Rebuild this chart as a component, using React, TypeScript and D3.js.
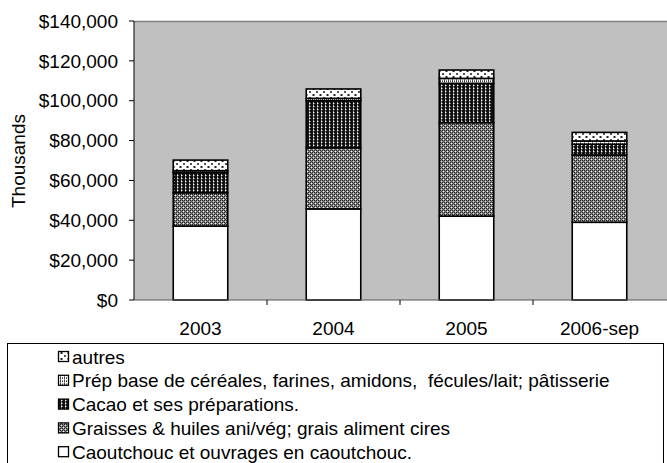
import React, { useEffect, useRef } from 'react';
import * as d3 from 'd3';

const CATEGORIES = ['2003', '2004', '2005', '2006-sep'];
const CAOUTCHOUC = [37.1, 45.7, 42.1, 39.0];
const GRAISSES = [16.7, 30.7, 46.9, 33.8];
const CACAO = [10.1, 23.6, 19.7, 5.4];
const PREP = [1.0, 1.2, 2.5, 1.6];
const AUTRES = [5.3, 4.7, 4.2, 4.3];
const Y_TICKS = [0, 20, 40, 60, 80, 100, 120, 140];

const SERIES = [
    { key: 'caout', label: 'Caoutchouc et ouvrages en caoutchouc.', values: CAOUTCHOUC, fill: '#ffffff' },
    { key: 'grais', label: 'Graisses & huiles ani/vég; grais aliment cires', values: GRAISSES, fill: 'url(#pGrais)' },
    { key: 'cacao', label: 'Cacao et ses préparations.', values: CACAO, fill: 'url(#pCacao)' },
    { key: 'prep', label: 'Prép base de céréales, farines, amidons,  fécules/lait; pâtisserie', values: PREP, fill: 'url(#pPrep)' },
    { key: 'autres', label: 'autres', values: AUTRES, fill: 'url(#pAutres)' },
];

const W = 667;
const H = 463;
const FONT = '"Liberation Sans", Arial, sans-serif';
const FS = 19;

const App = () => {
    const svgRef = useRef<SVGSVGElement>(null);

    useEffect(() => {
        const svg = d3.select(svgRef.current);
        svg.selectAll('*').remove();

        const left = 134, right = 666, top = 21, bottom = 300;

        // patterns
        const defs = svg.append('defs');
        const pat = (id: string, w: number, h: number, bg: string, px: [number, number, string][]) => {
            const p = defs.append('pattern').attr('id', id).attr('patternUnits', 'userSpaceOnUse')
                .attr('width', w).attr('height', h);
            p.append('rect').attr('width', w).attr('height', h).attr('fill', bg);
            px.forEach(([x, y, c]) => p.append('rect').attr('x', x).attr('y', y).attr('width', 1).attr('height', 1).attr('fill', c));
        };
        pat('pGrais', 4, 4, '#8a8a8a', [[0, 0, '#222'], [2, 0, '#222'], [1, 1, '#ddd'], [3, 1, '#555'], [0, 2, '#222'], [2, 2, '#222'], [1, 3, '#555'], [3, 3, '#fff']]);
        pat('pCacao', 4, 3, '#111', [[1, 0, '#999'], [1, 1, '#fff'], [2, 1, '#777'], [1, 2, '#666']]);
        pat('pPrep', 4, 3, '#ffffff', [[0, 0, '#444'], [2, 0, '#444'], [0, 1, '#888'], [0, 2, '#444'], [2, 2, '#888']]);
        const pa = defs.append('pattern').attr('id', 'pAutres').attr('patternUnits', 'userSpaceOnUse')
            .attr('width', 7).attr('height', 6);
        pa.append('rect').attr('width', 7).attr('height', 6).attr('fill', '#fff');
        pa.append('rect').attr('x', 1).attr('y', 1).attr('width', 2).attr('height', 2).attr('fill', '#555');
        pa.append('rect').attr('x', 4.5).attr('y', 4).attr('width', 2).attr('height', 2).attr('fill', '#222');

        const x = d3.scaleBand<string>().domain(CATEGORIES).range([left, right])
            .paddingInner(0.59).paddingOuter(0.295);
        const y = d3.scaleLinear().domain([0, 140]).range([bottom, top]);

        // plot area
        svg.append('rect').attr('x', left).attr('y', top).attr('width', W - left).attr('height', bottom - top)
            .attr('fill', '#c0c0c0');
        svg.append('line').attr('x1', left).attr('x2', W).attr('y1', top + 0.5).attr('y2', top + 0.5)
            .attr('stroke', '#808080').attr('stroke-width', 1.5);

        // stacked bars
        const table = CATEGORIES.map((c, i) => {
            const row: any = { cat: c };
            SERIES.forEach(s => { row[s.key] = s.values[i]; });
            return row;
        });
        const stacked = d3.stack().keys(SERIES.map(s => s.key))(table);
        stacked.forEach((layer, li) => {
            svg.append('g').selectAll('rect').data(layer).join('rect')
                .attr('x', (d: any) => x(d.data.cat)!)
                .attr('width', x.bandwidth())
                .attr('y', d => y(d[1]))
                .attr('height', d => y(d[0]) - y(d[1]))
                .attr('fill', SERIES[li].fill)
                .attr('stroke', '#000')
                .attr('stroke-width', 1.6);
        });

        // y axis
        svg.append('line').attr('x1', left).attr('x2', left).attr('y1', top).attr('y2', bottom)
            .attr('stroke', '#000');
        const yg = svg.append('g');
        Y_TICKS.forEach(t => {
            yg.append('line').attr('x1', left - 5).attr('x2', left).attr('y1', y(t)).attr('y2', y(t)).attr('stroke', '#000');
            yg.append('text').attr('x', left - 16).attr('y', y(t)).attr('dy', '0.35em')
                .attr('text-anchor', 'end').attr('font-family', FONT).attr('font-size', FS)
                .text('$' + d3.format(',')(t * 1000));
        });
        svg.append('text').attr('transform', 'translate(25,161) rotate(-90)')
            .attr('text-anchor', 'middle').attr('font-family', FONT).attr('font-size', FS).text('Thousands');

        // x axis
        svg.append('line').attr('x1', left).attr('x2', W).attr('y1', bottom).attr('y2', bottom)
            .attr('stroke', '#555');
        CATEGORIES.forEach((c, i) => {
            const bx = x(c)! - x.step() * x.paddingOuter();
            if (i > 0) {
                svg.append('line').attr('x1', bx).attr('x2', bx).attr('y1', bottom).attr('y2', bottom + 5).attr('stroke', '#000');
            }
            svg.append('text').attr('x', x(c)! + x.bandwidth() / 2).attr('y', 335)
                .attr('text-anchor', 'middle').attr('font-family', FONT).attr('font-size', FS).text(c);
        });

        // legend
        const lg = svg.append('g');
        lg.append('rect').attr('x', 7.5).attr('y', 343.5).attr('width', 656).attr('height', 130)
            .attr('fill', '#fff').attr('stroke', '#000');
        SERIES.slice().reverse().forEach((s, i) => {
            const cy = 357 + i * 23.8;
            lg.append('rect').attr('x', 58.5).attr('y', cy - 5.5).attr('width', 10).attr('height', 10)
                .attr('fill', s.fill).attr('stroke', '#000').attr('stroke-width', 1.3);
            lg.append('text').attr('x', 72).attr('y', cy).attr('dy', '0.35em')
                .attr('font-family', FONT).attr('font-size', FS).style('white-space', 'pre').text(s.label);
        });
    }, []);

    return (
        <svg ref={svgRef} width={W} height={H} style={{ position: 'absolute', left: 0, top: 0, background: '#fff' }} />
    );
};

export default App;
